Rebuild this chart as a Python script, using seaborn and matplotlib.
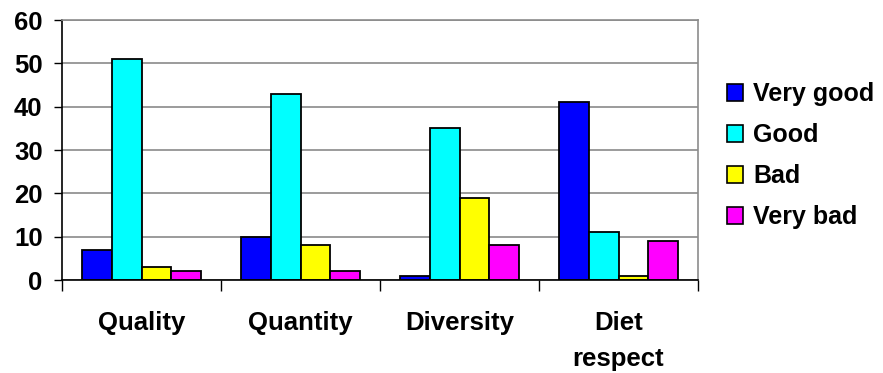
import matplotlib
matplotlib.use("Agg")
import matplotlib.pyplot as plt
from matplotlib.patches import Patch
from matplotlib.ticker import FixedLocator
import seaborn as sns
import pandas as pd

# Survey answers (%) per aspect of the meals
categories = ["Quality", "Quantity", "Diversity", "Diet\nrespect"]
levels = ["Very good", "Good", "Bad", "Very bad"]
very_good = [7, 10, 1, 41]
good = [51, 43, 35, 11]
bad = [3, 8, 19, 1]
very_bad = [2, 2, 8, 9]
y_ticks = [0, 10, 20, 30, 40, 50, 60]

colors = ["#0000FF", "#00FFFF", "#FFFF00", "#FF00FF"]

rows = []
for level, vals in zip(levels, [very_good, good, bad, very_bad]):
    for cat, v in zip(categories, vals):
        rows.append({"category": cat, "level": level, "value": v})
df = pd.DataFrame(rows)

sns.set_style("white")
plt.rcParams["font.family"] = ["Liberation Sans", "DejaVu Sans"]
plt.rcParams["font.weight"] = "bold"
plt.rcParams["text.color"] = "black"
plt.rcParams["xtick.color"] = "black"
plt.rcParams["ytick.color"] = "black"

fig = plt.figure(figsize=(8.83, 3.73), dpi=100)
ax = fig.add_axes([62 / 883, 1 - 280 / 373, (698 - 62) / 883, (280 - 20) / 373])

sns.barplot(
    data=df, x="category", y="value", hue="level",
    order=categories, hue_order=levels,
    palette=dict(zip(levels, colors)),
    width=0.75, gap=0, saturation=1,
    edgecolor="black", linewidth=1.3, ax=ax, legend=False,
)

ax.set_xlim(-0.5, len(categories) - 0.5)
ax.set_ylim(0, 60)
ax.set_yticks(y_ticks)
ax.set_yticklabels([str(t) for t in y_ticks], fontsize=18.5, fontweight="bold", color="black")
ax.set_xticks(range(len(categories)))
ax.set_xticklabels(categories, fontsize=18.5, fontweight="bold", color="black", linespacing=1.65)
ax.set_xlabel("")
ax.set_ylabel("")

# boundaries between categories carry the x tick marks
ax.xaxis.set_minor_locator(FixedLocator([i - 0.5 for i in range(len(categories) + 1)]))
ax.tick_params(axis="x", which="major", length=0, pad=22)
ax.tick_params(axis="x", which="minor", length=8, width=1, color="black", direction="out", bottom=True)
ax.tick_params(axis="y", which="major", length=6, width=1, color="black", direction="out", left=True, pad=8)

ax.yaxis.grid(True, color="#808080", linewidth=1.1)
ax.set_axisbelow(True)
for side in ["top", "right"]:
    ax.spines[side].set_visible(True)
    ax.spines[side].set_color("#8c8c8c")
    ax.spines[side].set_linewidth(1.2)
for side in ["left", "bottom"]:
    ax.spines[side].set_color("black")
    ax.spines[side].set_linewidth(1.2)

handles = [Patch(facecolor=c, edgecolor="black", linewidth=1.2, label=l) for c, l in zip(colors, levels)]
fig.legend(
    handles=handles, loc="upper left", bbox_to_anchor=(727 / 883, 1 - 82 / 373),
    frameon=False, prop={"size": 18, "weight": "bold"},
    handlelength=0.65, handleheight=0.65, handletextpad=0.4,
    labelspacing=0.68, borderpad=0, borderaxespad=0,
)

fig.savefig("out.png", dpi=100)
